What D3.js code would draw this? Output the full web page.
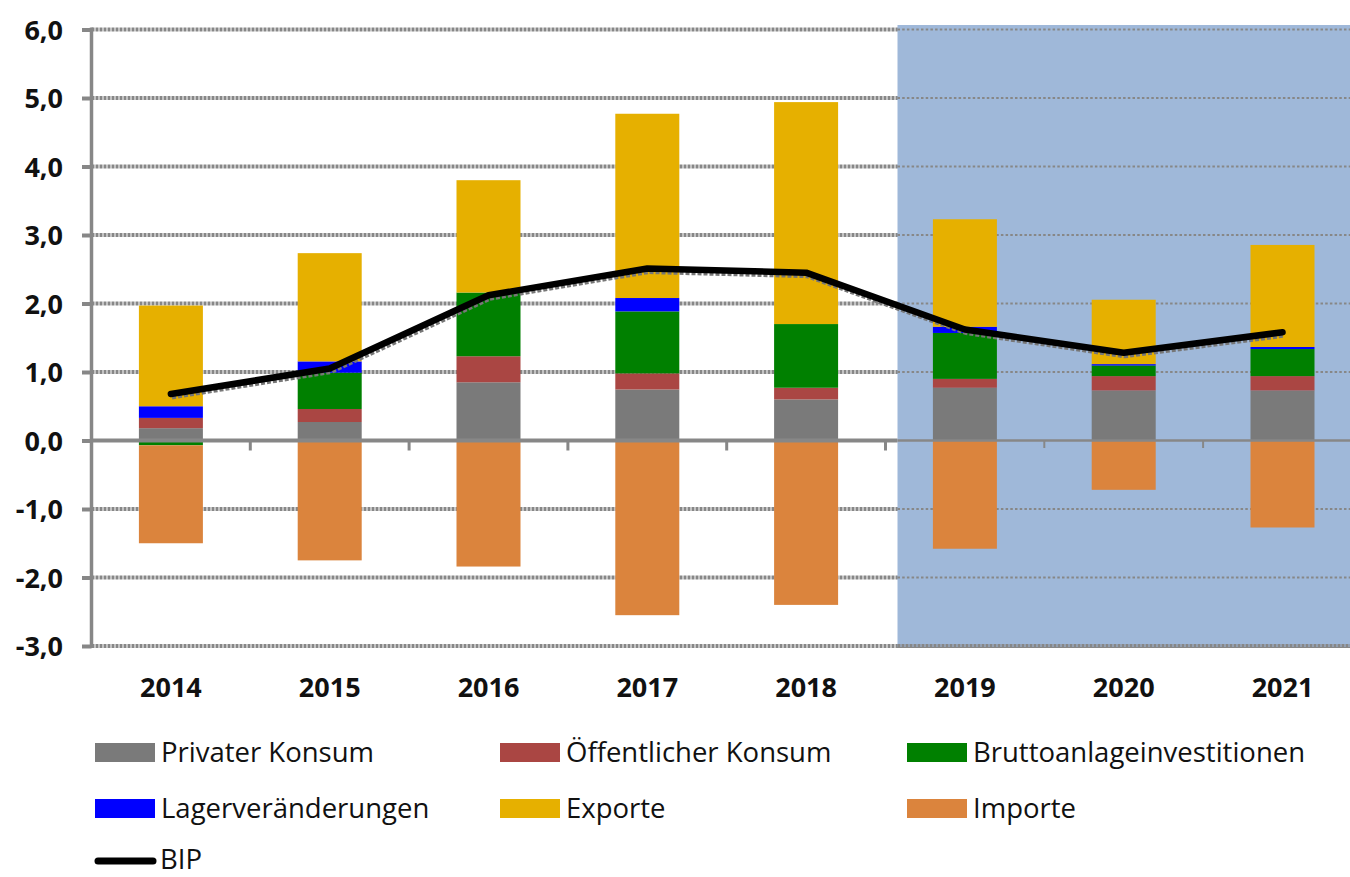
<!DOCTYPE html>
<html><head><meta charset="utf-8">
<script src="https://cdn.jsdelivr.net/npm/d3@7"></script>
<style>html,body{margin:0;padding:0;background:#fff;overflow:hidden}</style>
</head><body><svg id="c" width="1350" height="877"></svg>
<script>
// ---------- data ----------
const years = ["2014","2015","2016","2017","2018","2019","2020","2021"];
const privaterKonsum       = [0.18, 0.27, 0.85, 0.745, 0.60, 0.77, 0.73, 0.73];
const oeffentlicherKonsum  = [0.15, 0.19, 0.38, 0.235, 0.17, 0.13, 0.21, 0.21];
const bruttoanlage         = [-0.07, 0.53, 0.93, 0.905, 0.93, 0.67, 0.155, 0.395];
const lagerveraenderungen  = [0.17, 0.165, 0.0, 0.195, 0.0, 0.09, 0.02, 0.03];
const exporte              = [1.47, 1.58, 1.64, 2.69, 3.24, 1.57, 0.94, 1.49];
const importe              = [-1.43, -1.75, -1.84, -2.55, -2.40, -1.58, -0.72, -1.27];
const bip                  = [0.68, 1.05, 2.12, 2.51, 2.45, 1.62, 1.28, 1.58];
const yTicks = [-3, -2, -1, 0, 1, 2, 3, 4, 5, 6];
const seriesNames = ["Privater Konsum","Öffentlicher Konsum","Bruttoanlageinvestitionen","Lagerveränderungen","Exporte","Importe"];
const lineName = "BIP";
const forecastStart = "2019";

// ---------- styles ----------
const seriesValues = [privaterKonsum, oeffentlicherKonsum, bruttoanlage, lagerveraenderungen, exporte, importe];
const colors = ["#7a7a7a","#aa4643","#008000","#0000ff","#e6b000","#db843d"];
const gridColor = "#878787";

const svg = d3.select("#c");
svg.append("rect").attr("width",1350).attr("height",877).attr("fill","#fff");

const x = d3.scaleBand().domain(years).range([91.5, 1361.9]).paddingInner(0.597).paddingOuter(0.2985);
const y = d3.scaleLinear().domain([-3, 6]).range([646, 29.5]);
const xL = x.range()[0], xR = x.range()[1];
const cx = d => x(d) + x.bandwidth()/2;
const boundary = d => cx(d) - x.step()/2;

const rows = years.map((yr, i) => {
  const o = {year: yr};
  seriesNames.forEach((n, j) => o[n] = seriesValues[j][i]);
  return o;
});
const stacked = d3.stack().keys(seriesNames).offset(d3.stackOffsetDiverging)(rows);

const loc = d3.formatLocale({decimal: ",", thousands: ".", grouping: [3], currency: ["", "€"], minus: "-"});
const fmt = loc.format(".1f");

const shadeX = boundary(forecastStart) + 12;

// gridlines (thick, dotted)
const grid = svg.append("g");
grid.selectAll("line").data(yTicks.filter(t => t !== 0)).join("line")
  .attr("x1", xL).attr("x2", xR)
  .attr("y1", d => y(d)).attr("y2", d => y(d))
  .attr("stroke", gridColor).attr("stroke-width", 4).attr("stroke-dasharray", "3,1");

// shaded forecast region
svg.append("rect").attr("x", shadeX).attr("y", y(6) - 4.5)
  .attr("width", 1350 - shadeX + 20).attr("height", y(-3) - y(6) + 5.5)
  .attr("fill", "#9fb8d9");

// thin gridlines inside the shade
svg.append("g").selectAll("line").data(yTicks.filter(t => t !== 0 && t !== -3)).join("line")
  .attr("x1", shadeX).attr("x2", xR)
  .attr("y1", d => y(d)).attr("y2", d => y(d))
  .attr("stroke", gridColor).attr("stroke-width", 2).attr("stroke-dasharray", "2.5,2.2");
svg.append("line").attr("x1", shadeX).attr("x2", xR).attr("y1", y(-3)).attr("y2", y(-3))
  .attr("stroke", gridColor).attr("stroke-width", 4).attr("stroke-dasharray", "3,1");

// bars
svg.append("g").selectAll("g").data(stacked).join("g")
  .attr("fill", (d, i) => colors[i])
  .selectAll("rect").data(d => d).join("rect")
  .attr("x", d => x(d.data.year))
  .attr("width", x.bandwidth())
  .attr("y", d => y(Math.max(d[0], d[1])))
  .attr("height", d => Math.abs(y(d[0]) - y(d[1])));

// y axis
const yAxis = svg.append("g").attr("transform", `translate(${xL},0)`)
  .call(d3.axisLeft(y).tickValues(yTicks).tickFormat(fmt).tickSize(9.5).tickPadding(19));
yAxis.select(".domain").remove();
yAxis.selectAll(".tick line").attr("stroke", gridColor).attr("stroke-width", 4);
yAxis.selectAll(".tick text").attr("font-family", "'Open Sans', sans-serif")
  .attr("font-weight", "bold").attr("font-size", 27).attr("fill", "#111").attr("dy", "0.36em");
svg.append("line").attr("x1", xL).attr("x2", xL).attr("y1", y(6) - 2).attr("y2", y(-3) + 2)
  .attr("stroke", gridColor).attr("stroke-width", 3.5);

// zero line
svg.append("line").attr("x1", xL).attr("x2", shadeX).attr("y1", y(0)).attr("y2", y(0))
  .attr("stroke", gridColor).attr("stroke-width", 4);
svg.append("line").attr("x1", shadeX).attr("x2", xR).attr("y1", y(0)).attr("y2", y(0))
  .attr("stroke", gridColor).attr("stroke-width", 2.5);
// category boundary ticks
svg.append("g").selectAll("line").data(years.slice(1)).join("line")
  .attr("x1", d => boundary(d)).attr("x2", d => boundary(d))
  .attr("y1", y(0))
  .attr("y2", d => boundary(d) < shadeX ? y(0) + 10 : y(0) + 7.5)
  .attr("stroke", gridColor)
  .attr("stroke-width", d => boundary(d) < shadeX ? 3 : 2);

// x axis labels
const xAxis = svg.append("g").attr("transform", `translate(0,${y(-3)})`)
  .call(d3.axisBottom(x).tickSize(0).tickPadding(32));
xAxis.select(".domain").remove();
xAxis.selectAll(".tick text").attr("font-family", "'Open Sans', sans-serif")
  .attr("font-weight", "bold").attr("font-size", 27).attr("fill", "#111");

// BIP line
const line = d3.line().x((d, i) => cx(years[i])).y(d => y(d));
svg.append("path").datum(bip).attr("d", line)
  .attr("transform", "translate(1,2.5)")
  .attr("fill", "none").attr("stroke", "#777").attr("stroke-width", 6)
  .attr("stroke-dasharray", "4,2").attr("stroke-linejoin", "round");
svg.append("path").datum(bip).attr("d", line)
  .attr("fill", "none").attr("stroke", "#000").attr("stroke-width", 6.5)
  .attr("stroke-linejoin", "round").attr("stroke-linecap", "round");

// legend
const legCols = [95, 500, 907];
const legRows = [752.5, 808.5, 861];
const legend = svg.append("g").attr("font-family", "'Open Sans', sans-serif").attr("font-size", 27.5).attr("fill", "#111");
seriesNames.forEach((n, i) => {
  const lx = legCols[i % 3], ly = legRows[Math.floor(i / 3)];
  legend.append("rect").attr("x", lx).attr("y", ly - 9.5).attr("width", 60).attr("height", 19).attr("fill", colors[i]);
  legend.append("text").attr("x", lx + 66).attr("y", ly + 9.5).text(n);
});
legend.append("line").attr("x1", legCols[0] + 3).attr("x2", legCols[0] + 58)
  .attr("y1", legRows[2]).attr("y2", legRows[2])
  .attr("stroke", "#000").attr("stroke-width", 7).attr("stroke-linecap", "round");
legend.append("text").attr("x", legCols[0] + 65).attr("y", legRows[2] + 8).text(lineName);
</script></body></html>
